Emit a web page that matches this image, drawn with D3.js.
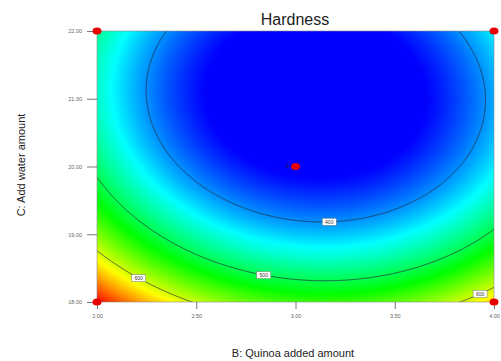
<!DOCTYPE html>
<html>
<head>
<meta charset="utf-8">
<script src="https://cdn.jsdelivr.net/npm/d3@7"></script>
<style>
  html, body { margin: 0; padding: 0; background: #fff; }
  svg { display: block; font-family: Arial, "Liberation Sans", sans-serif; }
</style>
</head>
<body>
<svg id="chart" width="501" height="361"></svg>
<script>
// Factor ranges and axis ticks
const bTicks = [2.0, 2.5, 3.0, 3.5, 4.0];       // B: quinoa added amount
const cTicks = [18.0, 19.0, 20.0, 21.0, 22.0];  // C: added water amount

// Quadratic response model for Hardness (coded factors, A held at centre)
const modelTerms = ["Intercept", "B", "C", "BC", "B^2", "C^2"];
const modelCoefs = [342, -28.7, -106.1, 8.0, 119.7, 100.1];

// Contour levels and where their labels sit (level, B value on the lower branch)
const contourLevels = [400, 500, 600];
const labelLevels = [400, 500, 600, 600];
const labelAtB = [3.17, 2.84, 2.21, 3.93];

// Design points in this B-C slice
const designB = [2, 4, 2, 4, 3];
const designC = [22, 22, 18, 18, 20];
const designReps = [1, 1, 1, 1, 5];

// Colour ramp for the response
const colorStops = [350, 438.75, 527.5, 616.25, 705];
const colorRange = ["#0000ff", "#00ffff", "#00ff00", "#ffff00", "#ff0000"];

const coef = Object.fromEntries(modelTerms.map((t, i) => [t, modelCoefs[i]]));
function hardness(B, C) {
  const x = (B - 3) / 1, y = (C - 20) / 2;
  return coef["Intercept"] + coef["B"] * x + coef["C"] * y + coef["BC"] * x * y
       + coef["B^2"] * x * x + coef["C^2"] * y * y;
}
// lower C where the response equals `level` for a given B
function lowerC(B, level) {
  const x = B - 3;
  const a = coef["C^2"];
  const b = coef["C"] + coef["BC"] * x;
  const c = coef["Intercept"] + coef["B"] * x + coef["B^2"] * x * x - level;
  const y = (-b - Math.sqrt(b * b - 4 * a * c)) / (2 * a);
  return 20 + 2 * y;
}

const plot = { x0: 97, x1: 494, y0: 31, y1: 302 };
const xScale = d3.scaleLinear().domain([2, 4]).range([plot.x0, plot.x1]);
const yScale = d3.scaleLinear().domain([18, 22]).range([plot.y1, plot.y0]);
const color = d3.scaleLinear().domain(colorStops).range(colorRange).clamp(true);

const svg = d3.select("#chart");
const defs = svg.append("defs");
defs.append("clipPath").attr("id", "plotClip")
  .append("rect")
  .attr("x", plot.x0).attr("y", plot.y0)
  .attr("width", plot.x1 - plot.x0).attr("height", plot.y1 - plot.y0);

// Filled response surface, one canvas pixel per screen pixel
const pw = plot.x1 - plot.x0, ph = plot.y1 - plot.y0;
const canvas = document.createElement("canvas");
canvas.width = pw; canvas.height = ph;
const ctx = canvas.getContext("2d");
const img = ctx.createImageData(pw, ph);
for (let j = 0; j < ph; j++) {
  const C = yScale.invert(plot.y0 + j + 0.5);
  for (let i = 0; i < pw; i++) {
    const B = xScale.invert(plot.x0 + i + 0.5);
    const col = d3.rgb(color(hardness(B, C)));
    const k = 4 * (j * pw + i);
    img.data[k] = col.r; img.data[k + 1] = col.g; img.data[k + 2] = col.b; img.data[k + 3] = 255;
  }
}
ctx.putImageData(img, 0, 0);
svg.append("image")
  .attr("x", plot.x0).attr("y", plot.y0)
  .attr("width", pw).attr("height", ph)
  .attr("preserveAspectRatio", "none")
  .attr("href", canvas.toDataURL());

// Contour lines, computed on a grid that overhangs the plot so edges stay open
const pad = 10;
const gx0 = plot.x0 - pad, gy0 = plot.y0 - pad;
const nx = pw + 2 * pad, ny = ph + 2 * pad;
const grid = new Float64Array(nx * ny);
for (let j = 0; j < ny; j++) {
  const C = yScale.invert(gy0 + j + 0.5);
  for (let i = 0; i < nx; i++) {
    grid[j * nx + i] = hardness(xScale.invert(gx0 + i + 0.5), C);
  }
}
const contours = d3.contours().size([nx, ny]).thresholds(contourLevels)(grid);
const shift = d3.geoTransform({
  point(x, y) { this.stream.point(gx0 + x, gy0 + y); }
});
svg.append("g").attr("clip-path", "url(#plotClip)")
  .selectAll("path").data(contours).join("path")
  .attr("d", d3.geoPath(shift))
  .attr("fill", "none")
  .attr("stroke", "#2b2b3a")
  .attr("stroke-width", 0.75);

// Plot frame
svg.append("rect")
  .attr("x", plot.x0).attr("y", plot.y0)
  .attr("width", pw).attr("height", ph)
  .attr("fill", "none").attr("stroke", "#8a8a8a").attr("stroke-width", 0.6);

// Contour labels
const labels = svg.append("g");
labelLevels.forEach((lv, i) => {
  const B = labelAtB[i];
  const cx = xScale(B), cy = yScale(lowerC(B, lv));
  const g = labels.append("g").attr("transform", `translate(${cx},${cy})`);
  g.append("rect").attr("x", -7).attr("y", -3.5).attr("width", 14).attr("height", 7)
    .attr("fill", "#fff").attr("stroke", "#777").attr("stroke-width", 0.5);
  g.append("text").attr("text-anchor", "middle").attr("dy", "0.35em")
    .attr("font-size", 5).attr("fill", "#333").text(lv);
});

// Axes
const fmt = d3.format(".2f");
const yAxis = svg.append("g").attr("transform", `translate(${plot.x0},0)`)
  .call(d3.axisLeft(yScale).tickValues(cTicks).tickFormat(fmt).tickSize(10).tickPadding(5));
const xAxis = svg.append("g").attr("transform", `translate(0,${plot.y1})`)
  .call(d3.axisBottom(xScale).tickValues(bTicks).tickFormat(fmt).tickSize(7).tickPadding(5));
[xAxis, yAxis].forEach(ax => {
  ax.select(".domain").remove();
  ax.selectAll(".tick line").attr("stroke", "#555").attr("stroke-width", 0.8);
  ax.selectAll(".tick text").attr("font-size", 5.5).attr("fill", "#666")
    .attr("font-family", "Arial, 'Liberation Sans', sans-serif");
});

// Design points
svg.append("g").selectAll("ellipse")
  .data(designB.map((b, i) => ({ b, c: designC[i], n: designReps[i] })))
  .join("ellipse")
  .attr("cx", d => xScale(d.b)).attr("cy", d => yScale(d.c))
  .attr("rx", 4.5).attr("ry", 3.6)
  .attr("fill", "#e60000");
svg.append("g").selectAll("text")
  .data(designB.map((b, i) => ({ b, c: designC[i], n: designReps[i] })).filter(d => d.n > 1))
  .join("text")
  .attr("x", d => xScale(d.b) - 6.5).attr("y", d => yScale(d.c))
  .attr("dy", "0.35em").attr("text-anchor", "end")
  .attr("font-size", 5.5).attr("fill", "#1a1a40")
  .text(d => d.n);

// Titles
svg.append("text").attr("x", 295).attr("y", 25).attr("text-anchor", "middle")
  .attr("font-size", 16).attr("fill", "#222").text("Hardness");
svg.append("text").attr("x", 293).attr("y", 357).attr("text-anchor", "middle")
  .attr("font-size", 11).attr("fill", "#222").text("B: Quinoa added amount");
svg.append("text").attr("transform", "translate(25,165) rotate(-90)")
  .attr("text-anchor", "middle").attr("font-size", 11).attr("fill", "#222")
  .text("C: Add water amount");
</script>
</body>
</html>
